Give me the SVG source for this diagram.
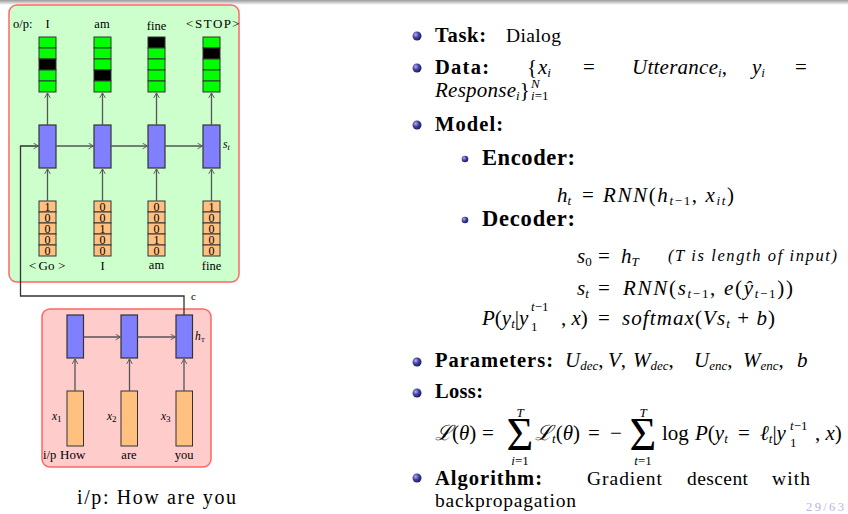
<svg xmlns="http://www.w3.org/2000/svg" width="848" height="514" viewBox="0 0 848 514">
<style>
.t{font-family:"Liberation Serif","DejaVu Serif",serif;fill:#000}
.n{font-size:19.5px}
.h{font-size:20.5px;font-weight:bold}
.m{font-size:21px}
.i{font-style:italic}
.lab{font-family:"Liberation Serif","DejaVu Serif",serif;font-size:12.5px;fill:#000}
.dg{font-family:"Liberation Serif","DejaVu Serif",serif;font-size:12px;fill:#000;text-anchor:middle}
.g{fill:#00ff00;stroke:#333;stroke-width:1}
.k{fill:#000;stroke:#333;stroke-width:1}
.bl{fill:#8080ff;stroke:#333;stroke-width:1.2}
.or{fill:#ffc080;stroke:#333;stroke-width:1}
.c{fill:none;stroke:#555;stroke-width:1.3}
.mid{text-anchor:middle}
</style>
<defs>
<linearGradient id="top" x1="0" y1="0" x2="0" y2="1"><stop offset="0" stop-color="#9a9a9a"/><stop offset="1" stop-color="#ffffff"/></linearGradient>
<radialGradient id="ball" cx="0.35" cy="0.35" r="0.7"><stop offset="0" stop-color="#b0b0f0"/><stop offset="0.5" stop-color="#4040a0"/><stop offset="1" stop-color="#1a1a5a"/></radialGradient>
<marker id="a" viewBox="0 0 10 10" refX="9" refY="5" markerWidth="7" markerHeight="7" orient="auto" markerUnits="userSpaceOnUse"><path d="M2,1 L9,5 L2,9" fill="none" stroke="#555" stroke-width="1.3"/></marker>
</defs>
<rect x="0" y="0" width="848" height="5" fill="url(#top)"/>

<g id="decoder-panel"><rect x="9" y="5" width="230" height="277" rx="8" fill="#ccffcc" stroke="#ff6666" stroke-width="1.5"/></g>
<g id="encoder-panel"><rect x="42" y="309" width="169" height="158" rx="8" fill="#ffcccc" stroke="#ff6666" stroke-width="1.5"/></g>

<g id="op-labels">
<text class="lab" x="13" y="28">o/p:</text>
<text class="lab mid" x="47.5" y="28">I</text>
<text class="lab mid" x="102" y="28">am</text>
<text class="lab mid" x="156.5" y="29.5">fine</text>
<text class="lab" y="28" style="font-size:13px"><tspan x="186">&lt;</tspan><tspan x="195" textLength="36">STOP</tspan><tspan x="232">&gt;</tspan></text>
</g>

<g id="out1"><rect class="g" x="39" y="37" width="17" height="11"/><rect class="g" x="39" y="48" width="17" height="11"/><rect class="k" x="39" y="59" width="17" height="11"/><rect class="g" x="39" y="70" width="17" height="11"/><rect class="g" x="39" y="81" width="17" height="11"/></g>
<g id="out2"><rect class="g" x="94" y="37" width="17" height="11"/><rect class="g" x="94" y="48" width="17" height="11"/><rect class="g" x="94" y="59" width="17" height="11"/><rect class="k" x="94" y="70" width="17" height="11"/><rect class="g" x="94" y="81" width="17" height="11"/></g>
<g id="out3"><rect class="k" x="148" y="37" width="17" height="11"/><rect class="g" x="148" y="48" width="17" height="11"/><rect class="g" x="148" y="59" width="17" height="11"/><rect class="g" x="148" y="70" width="17" height="11"/><rect class="g" x="148" y="81" width="17" height="11"/></g>
<g id="out4"><rect class="g" x="203" y="37" width="17" height="11"/><rect class="k" x="203" y="48" width="17" height="11"/><rect class="g" x="203" y="59" width="17" height="11"/><rect class="g" x="203" y="70" width="17" height="11"/><rect class="g" x="203" y="81" width="17" height="11"/></g>

<g id="dec1"><rect class="bl" x="39" y="125" width="17" height="43"/></g>
<g id="dec2"><rect class="bl" x="94" y="125" width="17" height="43"/></g>
<g id="dec3"><rect class="bl" x="148" y="125" width="17" height="43"/></g>
<g id="dec4"><rect class="bl" x="203" y="125" width="17" height="43"/><text class="lab i" x="223" y="148" style="font-size:11.5px">s<tspan font-size="8.5" dy="2">t</tspan></text></g>

<g id="in1"><rect class="or" x="39" y="201" width="17" height="11"/><rect class="or" x="39" y="212" width="17" height="11"/><rect class="or" x="39" y="223" width="17" height="11"/><rect class="or" x="39" y="234" width="17" height="11"/><rect class="or" x="39" y="245" width="17" height="11"/>
<text class="dg" x="47.5" y="210.5">1</text><text class="dg" x="47.5" y="221.5">0</text><text class="dg" x="47.5" y="232.5">0</text><text class="dg" x="47.5" y="243.5">0</text><text class="dg" x="47.5" y="254.5">0</text></g>
<g id="in2"><rect class="or" x="94" y="201" width="17" height="11"/><rect class="or" x="94" y="212" width="17" height="11"/><rect class="or" x="94" y="223" width="17" height="11"/><rect class="or" x="94" y="234" width="17" height="11"/><rect class="or" x="94" y="245" width="17" height="11"/>
<text class="dg" x="102.5" y="210.5">0</text><text class="dg" x="102.5" y="221.5">0</text><text class="dg" x="102.5" y="232.5">1</text><text class="dg" x="102.5" y="243.5">0</text><text class="dg" x="102.5" y="254.5">0</text></g>
<g id="in3"><rect class="or" x="148" y="201" width="17" height="11"/><rect class="or" x="148" y="212" width="17" height="11"/><rect class="or" x="148" y="223" width="17" height="11"/><rect class="or" x="148" y="234" width="17" height="11"/><rect class="or" x="148" y="245" width="17" height="11"/>
<text class="dg" x="156.5" y="210.5">0</text><text class="dg" x="156.5" y="221.5">0</text><text class="dg" x="156.5" y="232.5">0</text><text class="dg" x="156.5" y="243.5">1</text><text class="dg" x="156.5" y="254.5">0</text></g>
<g id="in4"><rect class="or" x="203" y="201" width="17" height="11"/><rect class="or" x="203" y="212" width="17" height="11"/><rect class="or" x="203" y="223" width="17" height="11"/><rect class="or" x="203" y="234" width="17" height="11"/><rect class="or" x="203" y="245" width="17" height="11"/>
<text class="dg" x="211.5" y="210.5">1</text><text class="dg" x="211.5" y="221.5">0</text><text class="dg" x="211.5" y="232.5">0</text><text class="dg" x="211.5" y="243.5">0</text><text class="dg" x="211.5" y="254.5">0</text></g>

<g id="in-labels">
<text class="lab" y="270" style="font-size:13px"><tspan x="29">&lt;</tspan><tspan x="38.5">Go</tspan><tspan x="58">&gt;</tspan></text>
<text class="lab mid" x="102.5" y="270">I</text>
<text class="lab mid" x="156.5" y="269">am</text>
<text class="lab mid" x="211.5" y="270">fine</text>
</g>

<g id="enc1"><rect class="bl" x="67" y="315" width="16.5" height="43"/></g>
<g id="enc2"><rect class="bl" x="121" y="315" width="16.5" height="43"/></g>
<g id="enc3"><rect class="bl" x="176" y="315" width="16.5" height="43"/><text class="lab i" x="195" y="340" style="font-size:11.5px">h<tspan font-size="7" dy="2" font-style="normal">T</tspan></text></g>
<g id="x1"><rect class="or" x="67" y="391" width="16.5" height="55"/><text class="lab i" x="52" y="420" style="font-size:11.5px">x<tspan font-size="9" dy="2" font-style="normal">1</tspan></text></g>
<g id="x2"><rect class="or" x="121" y="391" width="16.5" height="55"/><text class="lab i" x="107" y="420" style="font-size:11.5px">x<tspan font-size="9" dy="2" font-style="normal">2</tspan></text></g>
<g id="x3"><rect class="or" x="176" y="391" width="16.5" height="55"/><text class="lab i" x="161" y="420" style="font-size:11.5px">x<tspan font-size="9" dy="2" font-style="normal">3</tspan></text></g>
<g id="enc-labels">
<text class="lab" x="43" y="459">i/p</text>
<text class="lab" x="60" y="459" style="font-size:13px">How</text>
<text class="lab mid" x="129" y="459">are</text>
<text class="lab mid" x="184" y="459">you</text>
<text class="lab" x="191" y="300" style="font-size:11px">c</text>
</g>

<g id="caption"><text class="t" x="77" y="504" style="font-size:20px" textLength="159" lengthAdjust="spacing">i/p:  How are you</text></g>

<g id="connectors">
<line class="c" x1="47.5" y1="125" x2="47.5" y2="93" marker-end="url(#a)"/>
<line class="c" x1="102.5" y1="125" x2="102.5" y2="93" marker-end="url(#a)"/>
<line class="c" x1="156.5" y1="125" x2="156.5" y2="93" marker-end="url(#a)"/>
<line class="c" x1="211.5" y1="125" x2="211.5" y2="93" marker-end="url(#a)"/>
<line class="c" x1="47.5" y1="201" x2="47.5" y2="169" marker-end="url(#a)"/>
<line class="c" x1="102.5" y1="201" x2="102.5" y2="169" marker-end="url(#a)"/>
<line class="c" x1="156.5" y1="201" x2="156.5" y2="169" marker-end="url(#a)"/>
<line class="c" x1="211.5" y1="201" x2="211.5" y2="169" marker-end="url(#a)"/>
<line class="c" x1="56" y1="146" x2="93.5" y2="146" marker-end="url(#a)"/>
<line class="c" x1="111" y1="146" x2="147.5" y2="146" marker-end="url(#a)"/>
<line class="c" x1="165" y1="146" x2="202.5" y2="146" marker-end="url(#a)"/>
<path d="M184,315 V296 H20.5 V146 H38.5" fill="none" stroke="#333" stroke-width="1.3" marker-end="url(#a)"/>
<line class="c" x1="75" y1="391" x2="75" y2="359" marker-end="url(#a)"/>
<line class="c" x1="129.5" y1="391" x2="129.5" y2="359" marker-end="url(#a)"/>
<line class="c" x1="184" y1="391" x2="184" y2="359" marker-end="url(#a)"/>
<line class="c" x1="83.5" y1="337" x2="120.5" y2="337" marker-end="url(#a)"/>
<line class="c" x1="137.5" y1="337" x2="175.5" y2="337" marker-end="url(#a)"/>
</g>

<g id="bullets">
<circle cx="417" cy="36" r="4.5" fill="url(#ball)"/>
<circle cx="417" cy="68" r="4.5" fill="url(#ball)"/>
<circle cx="417" cy="125" r="4.5" fill="url(#ball)"/>
<circle cx="465" cy="159" r="3.3" fill="url(#ball)"/>
<circle cx="465" cy="220" r="3.3" fill="url(#ball)"/>
<circle cx="417" cy="362" r="4.5" fill="url(#ball)"/>
<circle cx="417" cy="393" r="4.5" fill="url(#ball)"/>
<circle cx="417" cy="478" r="4.5" fill="url(#ball)"/>
</g>

<g id="task"><text class="t h" x="435" y="42" textLength="51" lengthAdjust="spacing">Task:</text><text class="t n" x="506" y="42" textLength="55" lengthAdjust="spacing">Dialog</text></g>

<g id="data">
<text class="t h" x="435" y="74" textLength="54" lengthAdjust="spacing">Data:</text>
<text class="t m" y="74"><tspan x="527">{</tspan><tspan class="i" x="538">x</tspan><tspan class="i" font-size="13" dy="3">i</tspan></text>
<text class="t m" x="583" y="74">=</text>
<text class="t m i" x="632" y="74" textLength="86" lengthAdjust="spacing">Utterance</text>
<text class="t m" y="74"><tspan class="i" font-size="13" x="718" dy="3">i</tspan><tspan dy="-3">,</tspan></text>
<text class="t m i" x="752" y="74">y<tspan font-size="13" dy="3">i</tspan></text>
<text class="t m" x="795" y="74">=</text>
<text class="t m i" x="435" y="97" textLength="81" lengthAdjust="spacing">Response</text>
<text class="t m" y="97"><tspan class="i" font-size="13" x="516" dy="3">i</tspan><tspan dy="-3">}</tspan></text>
<text class="t i" x="531" y="88" style="font-size:13px">N</text>
<text class="t" x="531" y="100" style="font-size:13px"><tspan class="i">i</tspan>=1</text>
</g>

<g id="model"><text class="t h" x="435" y="131" textLength="68" lengthAdjust="spacing">Model:</text></g>

<g id="encoder">
<text class="t" x="482" y="165" style="font-size:22.5px;font-weight:bold" textLength="93" lengthAdjust="spacing">Encoder:</text>
<text class="t m i" x="557" y="202">h<tspan font-size="13" dy="3">t</tspan></text>
<text class="t m" x="582" y="202">=</text>
<text class="t m" x="603" y="202" textLength="131" lengthAdjust="spacing"><tspan class="i">RNN</tspan>(<tspan class="i">h</tspan><tspan font-size="13" dy="3"><tspan class="i">t</tspan>−1</tspan><tspan dy="-3">, </tspan><tspan class="i">x</tspan><tspan class="i" font-size="13" dy="3">it</tspan><tspan dy="-3">)</tspan></text>
</g>

<g id="decoder">
<text class="t" x="482" y="226" style="font-size:22.5px;font-weight:bold" textLength="93" lengthAdjust="spacing">Decoder:</text>
<text class="t m i" x="577" y="263">s<tspan font-size="13" dy="3" font-style="normal">0</tspan></text>
<text class="t m" x="598" y="263">=</text>
<text class="t m i" x="621" y="263">h<tspan font-size="13" dy="3">T</tspan></text>
<text class="t i" x="668" y="261" style="font-size:16.5px" textLength="169" lengthAdjust="spacing">(T is length of input)</text>
<text class="t m i" x="577" y="295">s<tspan font-size="13" dy="3">t</tspan></text>
<text class="t m" x="598" y="295">=</text>
<text class="t m" x="623" y="295" textLength="170" lengthAdjust="spacing"><tspan class="i">RNN</tspan>(<tspan class="i">s</tspan><tspan font-size="13" dy="3"><tspan class="i">t</tspan>−1</tspan><tspan dy="-3">, </tspan><tspan class="i">e</tspan>(<tspan class="i">ŷ</tspan><tspan font-size="13" dy="3"><tspan class="i">t</tspan>−1</tspan><tspan dy="-3">))</tspan></text>
<text class="t m" x="482" y="325"><tspan class="i">P</tspan>(<tspan class="i">y</tspan><tspan class="i" font-size="13" dy="3">t</tspan><tspan dy="-3">|</tspan><tspan class="i">y</tspan></text>
<text class="t" x="531" y="311" style="font-size:13px"><tspan class="i">t</tspan>−1</text>
<text class="t" x="531" y="331" style="font-size:13px">1</text>
<text class="t m" x="561" y="325">, <tspan class="i">x</tspan>)</text>
<text class="t m" x="598" y="325">=</text>
<text class="t m" x="622" y="325" textLength="153" lengthAdjust="spacing"><tspan class="i">softmax</tspan>(<tspan class="i">Vs</tspan><tspan class="i" font-size="13" dy="3">t</tspan><tspan dy="-3"> + </tspan><tspan class="i">b</tspan>)</text>
</g>

<g id="parameters">
<text class="t h" x="435" y="367" textLength="118" lengthAdjust="spacing">Parameters:</text>
<text class="t m i" x="565" y="367">U<tspan font-size="13" dy="3">dec</tspan><tspan dy="-3" font-style="normal">,</tspan></text>
<text class="t m i" x="608" y="367">V<tspan font-style="normal">,</tspan></text>
<text class="t m i" x="633" y="367">W<tspan font-size="13" dy="3">dec</tspan><tspan dy="-3" font-style="normal">,</tspan></text>
<text class="t m i" x="694" y="367">U<tspan font-size="13" dy="3">enc</tspan><tspan dy="-3" font-style="normal">,</tspan></text>
<text class="t m i" x="743" y="367">W<tspan font-size="13" dy="3">enc</tspan><tspan dy="-3" font-style="normal">,</tspan></text>
<text class="t m i" x="797" y="367">b</text>
</g>

<g id="loss">
<text class="t h" x="435" y="398" textLength="48" lengthAdjust="spacing">Loss:</text>
<text class="t m" x="435" y="440"><tspan class="i">ℒ</tspan>(<tspan class="i">θ</tspan>)</text>
<text class="t m" x="482" y="440">=</text>
<text class="t mid" x="520" y="450" style="font-size:46px">Σ</text>
<text class="t i mid" x="520" y="417" style="font-size:13px">T</text>
<text class="t mid" x="520" y="465" style="font-size:13px"><tspan class="i">i</tspan>=1</text>
<text class="t m" x="535" y="440"><tspan class="i">ℒ</tspan><tspan class="i" font-size="13" dy="3">t</tspan><tspan dy="-3">(</tspan><tspan class="i">θ</tspan>)</text>
<text class="t m" x="588" y="440">=</text>
<text class="t m" x="610" y="440">−</text>
<text class="t mid" x="643" y="450" style="font-size:46px">Σ</text>
<text class="t i mid" x="643" y="417" style="font-size:13px">T</text>
<text class="t mid" x="643" y="465" style="font-size:13px"><tspan class="i">t</tspan>=1</text>
<text class="t m" x="662" y="440">log</text>
<text class="t m" x="695" y="440"><tspan class="i">P</tspan>(<tspan class="i">y</tspan><tspan class="i" font-size="13" dy="3">t</tspan></text>
<text class="t m" x="738" y="440">=</text>
<text class="t m" x="760" y="440"><tspan class="i">ℓ</tspan><tspan class="i" font-size="13" dy="3">t</tspan><tspan dy="-3">|</tspan><tspan class="i">y</tspan></text>
<text class="t" x="790" y="430" style="font-size:13px"><tspan class="i">t</tspan>−1</text>
<text class="t" x="790" y="447" style="font-size:13px">1</text>
<text class="t m" x="815" y="440">, <tspan class="i">x</tspan>)</text>
</g>

<g id="algorithm">
<text class="t h" x="435" y="485" textLength="107" lengthAdjust="spacing">Algorithm:</text>
<text class="t n" x="587" y="485" textLength="75" lengthAdjust="spacing">Gradient</text>
<text class="t n" x="687" y="485" textLength="61" lengthAdjust="spacing">descent</text>
<text class="t n" x="772" y="485" textLength="38" lengthAdjust="spacing">with</text>
<text class="t n" x="435" y="507" textLength="141" lengthAdjust="spacing">backpropagation</text>
</g>
<g id="page"><text class="t" x="806" y="511" style="font-size:12.5px;fill:#b4b4dc" textLength="38" lengthAdjust="spacing">29/63</text></g>
</svg>
